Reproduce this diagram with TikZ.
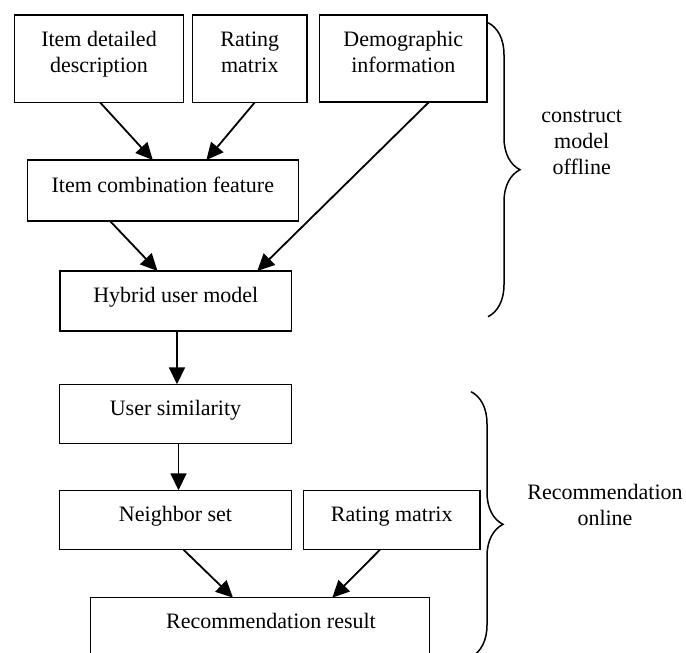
\documentclass[tikz,border=0pt]{standalone}
\usepackage{fontspec}
\setmainfont{Liberation Serif}
\usetikzlibrary{arrows.meta,decorations.pathreplacing}
% centred lines whose baseline is that of the first line
\newcommand{\textrows}[1]{\begin{tabular}[t]{@{}c@{}}#1\end{tabular}}
\begin{document}
\begin{tikzpicture}[x=1pt,y=-1pt,
  box/.style={draw, line width=1.5pt, inner sep=0pt, outer sep=0pt},
  txt/.style={inner sep=0pt, anchor=base, font=\fontsize{22}{26}\selectfont},
  arr/.style={line width=1.8pt, -{Triangle[length=17pt,width=16pt]}},
  curly/.style={decorate, decoration={brace, amplitude=32pt}, line width=1.5pt}
]
\useasboundingbox (0,0) rectangle (686,653);

% boxes
\node[box, minimum width=169.4pt, minimum height=87.3pt] (b1) at (99,58.7) {};
\node[box, minimum width=114.3pt, minimum height=87.3pt] (b2) at (249.8,58.7) {};
\node[box, minimum width=167.3pt, minimum height=86.7pt] (b3) at (403.3,58.4) {};
\node[box, minimum width=271pt, minimum height=61pt] (b4) at (162.8,190.5) {};
\node[box, minimum width=231.7pt, minimum height=60pt] (b5) at (175.8,301) {};
\node[box, minimum width=232.4pt, minimum height=59.4pt] (b6) at (175.5,414) {};
\node[box, minimum width=232.4pt, minimum height=59.4pt] (b7) at (175.5,520) {};
\node[box, minimum width=176.7pt, minimum height=59.4pt] (b8) at (391.7,520) {};
\node[box, minimum width=338.6pt, minimum height=62pt] (b9) at (260,628.7) {};

% box texts
\node[txt] (t1) at ([yshift=-31pt]b1.north) {\textrows{Item detailed\\description}};
\node[txt] (t2) at ([yshift=-31pt]b2.north) {\textrows{Rating\\matrix}};
\node[txt] (t3) at ([yshift=-31pt]b3.north) {\textrows{Demographic\\information}};
\node[txt] (t4) at ([yshift=-32pt]b4.north) {Item combination feature};
\node[txt] (t5) at ([yshift=-31pt]b5.north) {Hybrid user model};
\node[txt] (t6) at ([yshift=-31pt]b6.north) {User similarity};
\node[txt] (t7) at ([yshift=-31pt]b7.north) {Neighbor set};
\node[txt] (t8) at ([yshift=-31pt]b8.north) {Rating matrix};
\node[txt] (t9) at ([xshift=11pt,yshift=-31pt]b9.north) {Recommendation result};

% arrows
\draw[arr] ([xshift=1pt]b1.south) -- ([xshift=-10pt]b4.north);
\draw[arr] ([xshift=5pt]b2.south) -- ([xshift=43.6pt]b4.north);
\draw[arr] ([xshift=-52.8pt]b4.south) -- ([xshift=-18.3pt]b5.north);
\draw[arr] ([xshift=26pt]b3.south) -- ([xshift=81.5pt]b5.north);
\draw[arr] ([xshift=1.2pt]b5.south) -- ([xshift=1.5pt]b6.north);
\draw[arr] ([xshift=3pt]b6.south) -- ([xshift=3pt]b7.north);
\draw[arr] ([xshift=8pt]b7.south) -- ([xshift=-27pt]b9.north);
\draw[arr] ([xshift=-11.7pt]b8.south) -- ([xshift=72.3pt]b9.north);

% braces and their labels
\coordinate (o1) at (488,22.7);
\coordinate (o2) at (488,316.7);
\coordinate (r1) at (471,391.7);
\coordinate (r2) at (471,657);
\draw[curly] (o1) -- (o2);
\draw[curly] (r1) -- (r2);
\node[txt] (lo) at (581.7,122) {\textrows{construct\\model\\offline}};
\node[txt] (lr) at (605,499) {\textrows{Recommendation\\online}};
\end{tikzpicture}
\end{document}
